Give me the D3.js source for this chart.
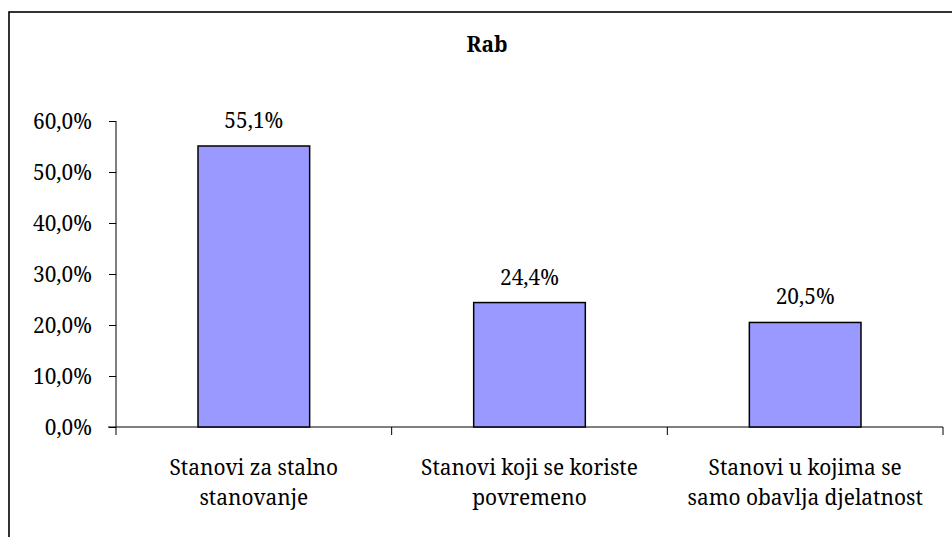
<!DOCTYPE html>
<html>
<head>
<meta charset="utf-8">
<script src="https://cdn.jsdelivr.net/npm/d3@7"></script>
<style>
  body { margin: 0; background: #fff; }
</style>
</head>
<body>
<div id="chart"></div>
<script>
// Data
var title = "Rab";
var categories = [
    ["Stanovi za stalno", "stanovanje"],
    ["Stanovi koji se koriste", "povremeno"],
    ["Stanovi u kojima se", "samo obavlja djelatnost"]
];
var values = [55.1, 24.4, 20.5];
var valueLabels = ["55,1%", "24,4%", "20,5%"];
var yTicks = [0, 10, 20, 30, 40, 50, 60];

// Dimensions
var W = 952, H = 537;
var margin = { top: 121, right: 9, bottom: 110, left: 116 },
    width = W - margin.left - margin.right,
    height = H - margin.top - margin.bottom;

var root = d3.select("#chart")
    .append("svg")
    .attr("width", W)
    .attr("height", H);

// Pick a serif font that is really installed, and size it so a label is ~217px wide
function measure(fam) {
    var t = root.append("text")
        .style("font-family", fam)
        .style("font-size", "100px")
        .text("Stanovi koji se koriste");
    var w = t.node().getComputedTextLength();
    t.remove();
    return w;
}
var sansW = [measure("'Liberation Sans'"), measure("'DejaVu Sans'"), measure("zzznofont")];
var FONT = "'Liberation Sans', Arial, sans-serif", fontW = sansW[0];
["'Liberation Serif'", "'Times New Roman'", "'Tinos'", "'Noto Serif'", "'DejaVu Serif'", "serif"].some(function (f) {
    var w = measure(f);
    if (sansW.every(function (s) { return Math.abs(s - w) > 0.5; })) { FONT = f; fontW = w; return true; }
    return false;
});
var FS = Math.min(24, 217 / fontW * 100);
root.style("font-family", FONT);

// Outer frame (runs past right/bottom edge)
root.append("rect")
    .attr("x", 9)
    .attr("y", 12)
    .attr("width", W + 20)
    .attr("height", H + 20)
    .attr("fill", "none")
    .attr("stroke", "#000")
    .attr("stroke-width", 1.6);

// Title
root.append("text")
    .attr("x", 487)
    .attr("y", 52)
    .attr("text-anchor", "middle")
    .style("font-size", FS + "px")
    .style("font-weight", "bold")
    .text(title);

var svg = root.append("g")
    .attr("transform", "translate(" + margin.left + "," + margin.top + ")");

var x = d3.scaleBand()
    .domain(d3.range(categories.length))
    .range([0, width])
    .padding(0);

var y = d3.scaleLinear()
    .domain([0, 60])
    .range([height, 0]);

// Y axis
var yAxis = svg.append("g")
    .call(d3.axisLeft(y)
        .tickValues(yTicks)
        .tickSize(7)
        .tickPadding(17)
        .tickFormat(function (d) { return d.toFixed(1).replace(".", ",") + "%"; }));
yAxis.attr("font-family", null).attr("font-size", null);
yAxis.select(".domain").attr("d", "M0,0V" + (height + 8));
yAxis.selectAll("text").style("font-size", FS + "px").attr("dy", "0.35em");
yAxis.selectAll("line, path").attr("stroke", "#000");

// X axis line and ticks at band edges
svg.append("line")
    .attr("x1", -8).attr("x2", width)
    .attr("y1", height).attr("y2", height)
    .attr("stroke", "#000");
svg.selectAll(".xtick")
    .data(d3.range(1, categories.length + 1))
    .enter().append("line")
    .attr("x1", function (d) { return x.step() * d; })
    .attr("x2", function (d) { return x.step() * d; })
    .attr("y1", height)
    .attr("y2", height + 8)
    .attr("stroke", "#000");

// Bars
var barW = x.bandwidth() * 0.405;
svg.selectAll("rect.bar")
    .data(values)
    .enter().append("rect")
    .attr("class", "bar")
    .attr("x", function (d, i) { return x(i) + (x.bandwidth() - barW) / 2; })
    .attr("y", function (d) { return y(d); })
    .attr("width", barW)
    .attr("height", function (d) { return height - y(d); })
    .style("fill", "#9999ff")
    .style("stroke", "#000")
    .style("stroke-width", 1.5);

// Value labels
svg.selectAll("text.val")
    .data(values)
    .enter().append("text")
    .attr("class", "val")
    .attr("x", function (d, i) { return x(i) + x.bandwidth() / 2; })
    .attr("y", function (d) { return y(d) - 18; })
    .attr("text-anchor", "middle")
    .style("font-size", FS + "px")
    .text(function (d, i) { return valueLabels[i]; });

// Category labels
var cat = svg.selectAll("text.cat")
    .data(categories)
    .enter().append("text")
    .attr("class", "cat")
    .attr("text-anchor", "middle")
    .style("font-size", FS + "px");
cat.each(function (lines, i) {
    d3.select(this).selectAll("tspan")
        .data(lines)
        .enter().append("tspan")
        .attr("x", x(i) + x.bandwidth() / 2)
        .attr("y", function (d, j) { return height + 48 + j * 30; })
        .text(function (d) { return d; });
});
</script>
</body>
</html>
